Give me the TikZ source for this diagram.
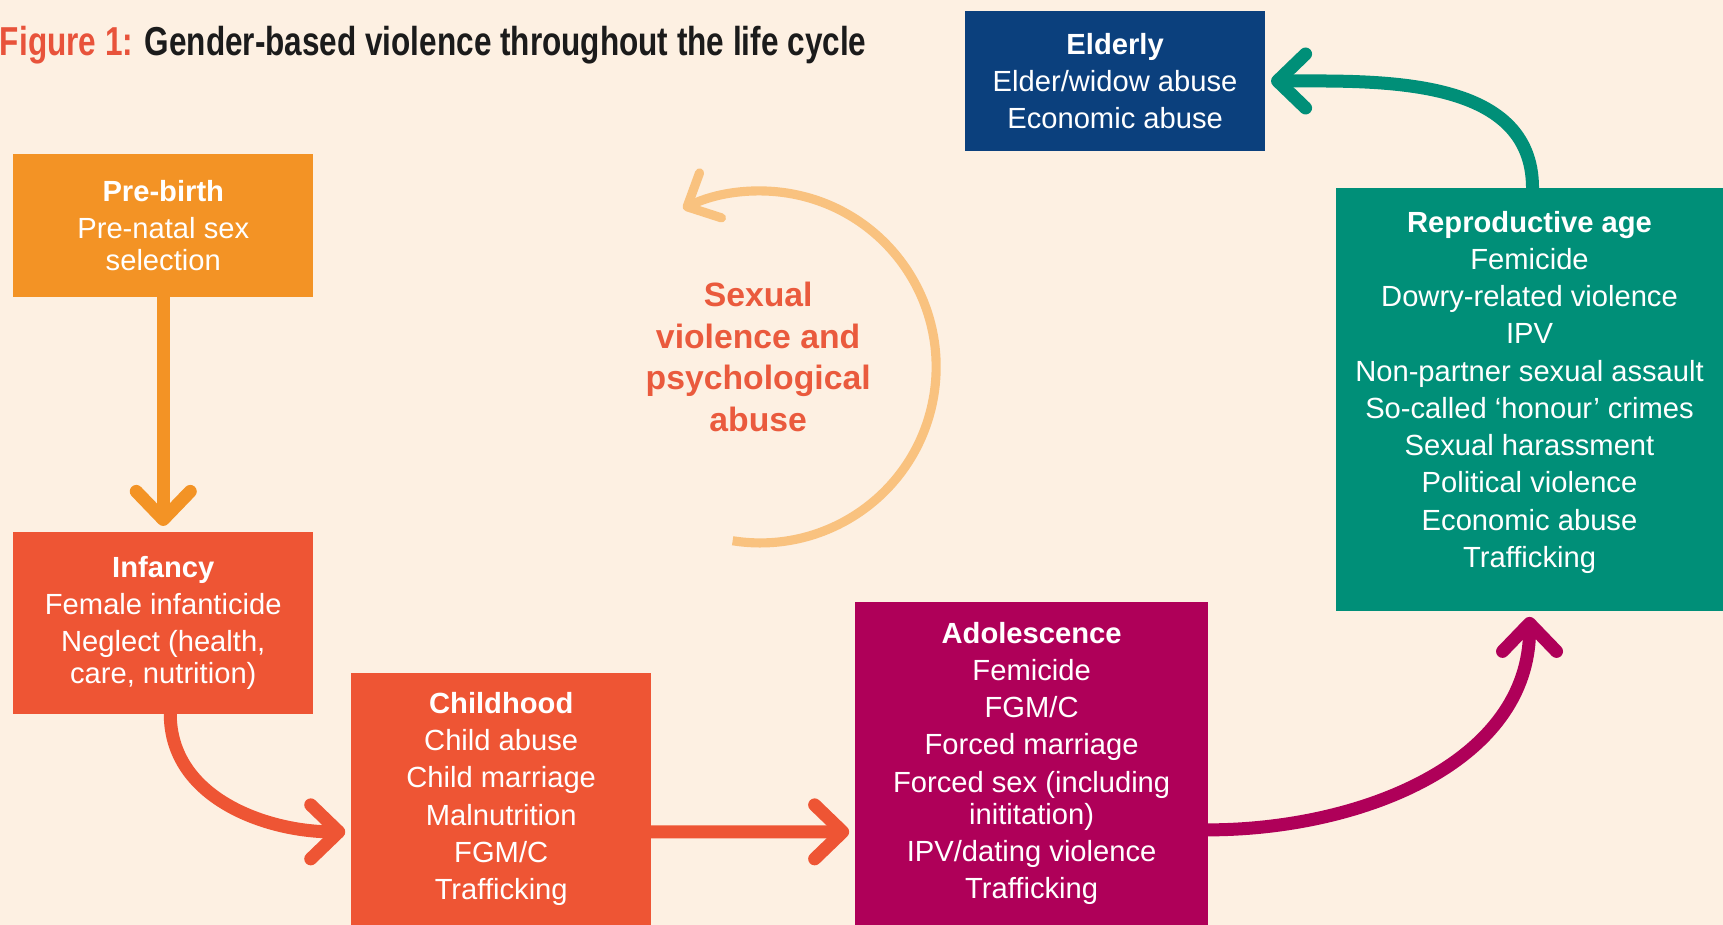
\documentclass[tikz,border=0pt]{standalone}
\usepackage{fontspec}
\setmainfont{Liberation Sans}
\newfontfamily\condfont[FakeStretch=0.78]{Liberation Sans}
\usepackage{xcolor}
\usetikzlibrary{arrows.meta,positioning}

\definecolor{bgcream}{HTML}{FDF0E2}
\definecolor{prebirthorange}{HTML}{F39325}
\definecolor{infancyred}{HTML}{EE5534}
\definecolor{adolmagenta}{HTML}{AF0059}
\definecolor{reproteal}{HTML}{008F78}
\definecolor{elderblue}{HTML}{0B407D}
\definecolor{cyclepeach}{HTML}{F9C27F}
\definecolor{cycletext}{HTML}{EA5A3D}
\definecolor{figred}{HTML}{E8533B}
\definecolor{titleblack}{HTML}{1B1B1B}

\begin{document}
\begin{tikzpicture}[
				x=0.1mm, y=0.1mm,
				font=\fontsize{8.3}{10.6}\selectfont,
				stage/.style={
					rectangle, anchor=north west,
					text=white, align=center,
					inner sep=0pt, outer sep=0pt,
					minimum width=30mm
				},
				flow/.style={
					line width=3.7pt, shorten >=0.6mm,
					-{Straight Barb[length=2.8mm, width=5.4mm, round]}
				},
				loopback/.style={
					line width=2.6pt, cyclepeach,
					-{Straight Barb[length=2.6mm, width=5mm, round]}
				},
				hdr/.style={font=\condfont\fontsize{11.5}{13}\selectfont\bfseries}
				]
				
				%% ─── PAGE AND HEADING ────────────────────────────────────────────
				\fill[bgcream] (0,0) rectangle (1723,-925);
				\node[hdr, anchor=base west, inner sep=0pt, text=titleblack] (title) at (-1,-56)
				{\textcolor{figred}{Figure 1:} Gender-based violence throughout the life cycle};
				
				%% ─── LIFE STAGES ─────────────────────────────────────────────────
				\node[stage, fill=prebirthorange, minimum height=14.3mm] (pb) at (13,-154)
				{\textbf{Pre-birth}\\ Pre-natal sex\\[-1.4pt] selection};
				\node[stage, fill=infancyred, minimum height=18.2mm, below=23.5mm of pb] (inf)
				{\textbf{Infancy}\\ Female infanticide\\ Neglect (health,\\[-1.4pt] care, nutrition)};
				\node[stage, fill=infancyred, minimum height=25.2mm] (ch) at (351,-673)
				{\textbf{Childhood}\\ Child abuse\\ Child marriage\\ Malnutrition\\ FGM/C\\ Trafficking};
				\node[stage, fill=adolmagenta, minimum width=35.3mm, minimum height=32.3mm] (ad) at (855,-602)
				{\textbf{Adolescence}\\ Femicide\\ FGM/C\\ Forced marriage\\ Forced sex (including\\[-1.4pt] inititation)\\ IPV/dating violence\\ Trafficking};
				% empty last row keeps the list a little above the middle
				\node[stage, fill=reproteal, minimum width=38.7mm, minimum height=42.3mm] (rep) at (1336,-188)
				{\textbf{Reproductive age}\\ Femicide\\ Dowry-related violence\\ IPV\\ Non-partner sexual assault\\ So-called ‘honour’ crimes\\ Sexual harassment\\ Political violence\\ Economic abuse\\ Trafficking\\[-4.8pt] \mbox{}};
				\node[stage, fill=elderblue, minimum height=14mm] (eld) at (965,-11)
				{\textbf{Elderly}\\ Elder/widow abuse\\ Economic abuse};
				
				%% ─── ARROWS BETWEEN STAGES ───────────────────────────────────────
				\draw[flow, prebirthorange] (pb) -- (inf);
				\draw[flow, infancyred] ([xshift=0.7mm]inf.south) to[out=-90, in=180] ([yshift=-3.3mm]ch.west);
				\draw[flow, infancyred] ([yshift=-3.3mm]ch.east) -- ([yshift=-6.85mm]ad.west);
				\draw[flow, adolmagenta] ([yshift=-6.65mm]ad.east) to[out=0, in=-90] (rep.south);
				\draw[flow, reproteal] ([xshift=0.3mm]rep.north) to[out=90, in=0] (eld.east);
				
				%% ─── SEXUAL / PSYCHOLOGICAL ABUSE LOOP ───────────────────────────
				\node[font=\fontsize{9.6}{11.9}\selectfont\bfseries, text=cycletext, align=center] (sv) at (758,-357)
				{Sexual\\ violence and\\ psychological\\ abuse};
				\draw[loopback] ([shift={(0.2mm,-1mm)}]sv.center) ++(-99:17.6mm)
				arc[start angle=-99, end angle=116, radius=17.6mm];
				
\end{tikzpicture}
\end{document}
